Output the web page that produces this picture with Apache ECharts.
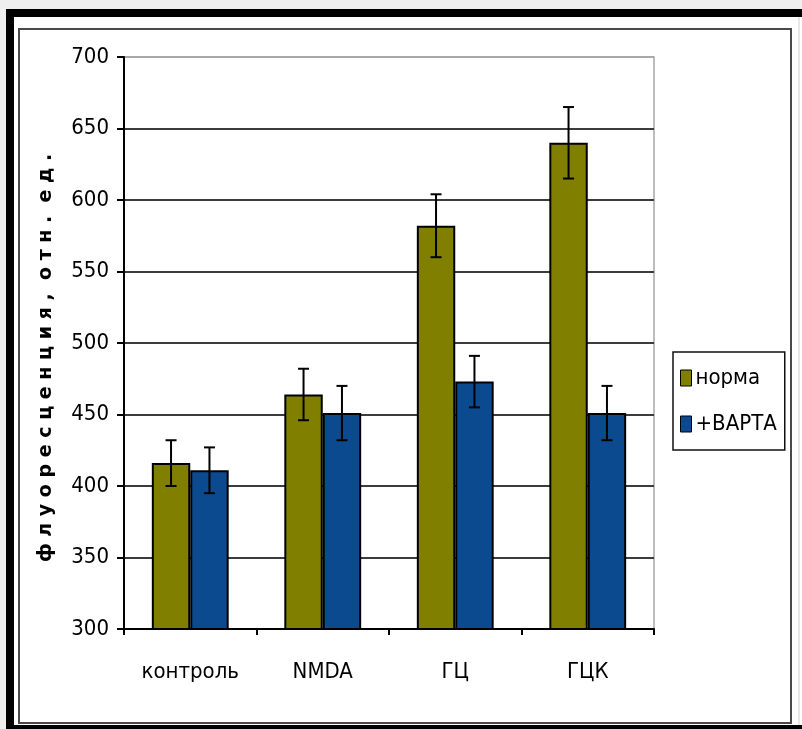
<!DOCTYPE html>
<html><head><meta charset="utf-8">
<script src="https://cdn.jsdelivr.net/npm/echarts@6/dist/echarts.min.js"></script>
<style>
html,body{margin:0;padding:0;background:#ffffff;width:802px;height:729px;overflow:hidden;}
#chart{position:absolute;left:0;top:0;width:802px;height:729px;}
</style></head>
<body>
<div id="chart"></div>
<script>
const categories = ['контроль', 'NMDA', 'ГЦ', 'ГЦК'];
const seriesNames = ['норма', '+ВАРТА'];
const normaValues = [416, 464, 582, 640];
const normaErr = [16, 18, 22, 25];
const bartaValues = [411, 451, 473, 451];
const bartaErr = [16, 19, 18, 19];
const yTicks = [300, 350, 400, 450, 500, 550, 600, 650, 700];
const yTitle = 'ф л у о р е с ц е н ц и я ,  о т н .  е д .';

const narrow = "'Liberation Sans Narrow', 'DejaVu Sans Condensed', 'Arial Narrow', sans-serif";
const olive = '#817f00';
const blue = '#0b4a8f';
const catGapFrac = 0.42;

function errSeries(vals, errs, side) {
  return {
    type: 'custom',
    silent: true,
    z: 5,
    data: vals.map((v, i) => [i, v - errs[i], v + errs[i]]),
    renderItem: function (params, api) {
      const cw = api.size([1, 0])[0];
      const bw = cw * (1 - catGapFrac) / 2;
      const c = api.coord([api.value(0), 0]);
      const x = c[0] + side * bw / 2;
      const lo = api.coord([api.value(0), api.value(1)])[1];
      const hi = api.coord([api.value(0), api.value(2)])[1];
      const cap = 5.5;
      const st = { stroke: '#000', lineWidth: 2 };
      return { type: 'group', children: [
        { type: 'line', shape: { x1: x, y1: lo, x2: x, y2: hi }, style: st },
        { type: 'line', shape: { x1: x - cap, y1: lo, x2: x + cap, y2: lo }, style: st },
        { type: 'line', shape: { x1: x - cap, y1: hi, x2: x + cap, y2: hi }, style: st }
      ]};
    }
  };
}

const chart = echarts.init(document.getElementById('chart'), null, { renderer: 'canvas' });
chart.setOption({
  animation: false,
  backgroundColor: '#ffffff',
  grid: { left: 124, right: 148, top: 57, bottom: 100, show: true, borderColor: '#a8a8a8', borderWidth: 1.5, backgroundColor: 'transparent' },
  legend: {
    orient: 'vertical', left: 673, top: 352,
    backgroundColor: '#fff', borderColor: '#111', borderWidth: 1.5,
    padding: [15, 8, 15, 7], itemGap: 24,
    itemWidth: 11, itemHeight: 16, icon: 'rect',
    itemStyle: { borderColor: '#000', borderWidth: 1 },
    textStyle: { fontFamily: narrow, fontSize: 22, color: '#000', padding: [0, 0, 0, -1] },
    data: seriesNames
  },
  xAxis: {
    type: 'category', data: categories,
    axisLine: { lineStyle: { color: '#000', width: 2 } },
    axisTick: { show: true, length: 6, lineStyle: { color: '#000', width: 2 } },
    axisLabel: { interval: 0, fontFamily: narrow, fontSize: 22, color: '#000', margin: 32 },
    splitLine: { show: false }
  },
  yAxis: {
    type: 'value', min: 300, max: 700, interval: 50,
    axisLine: { show: true, lineStyle: { color: '#000', width: 2 } },
    axisTick: { show: true, length: 7, lineStyle: { color: '#000', width: 2 } },
    axisLabel: { fontFamily: narrow, fontSize: 22, color: '#000', margin: 15,
      formatter: v => (yTicks.indexOf(v) >= 0 ? String(v) : '') },
    splitLine: { show: true, lineStyle: { color: ['#3c3c3c','#3c3c3c','#3c3c3c','#3c3c3c','#3c3c3c','#3c3c3c','#3c3c3c','#3c3c3c','#a8a8a8'], width: 2 } }
  },
  graphic: [
    { type: 'rect', z: -100, silent: true, shape: { x: 0, y: 0, width: 802, height: 9 }, style: { fill: '#efefef' } },
    { type: 'rect', z: -100, silent: true, shape: { x: 0, y: 0, width: 6, height: 729 }, style: { fill: '#efefef' } },
    { type: 'rect', z: -100, silent: true, shape: { x: 6, y: 9, width: 796, height: 8 }, style: { fill: '#000' } },
    { type: 'rect', z: -100, silent: true, shape: { x: 6, y: 9, width: 8, height: 720 }, style: { fill: '#000' } },
    { type: 'rect', z: -100, silent: true, shape: { x: 6, y: 725, width: 796, height: 4 }, style: { fill: '#000' } },
    { type: 'rect', z: 100, silent: true, shape: { x: 793, y: 17, width: 9, height: 708 }, style: { fill: '#fff' } },
    { type: 'line', z: 100, silent: true, shape: { x1: 799, y1: 17, x2: 799, y2: 725 }, style: { stroke: '#d0d0d0', lineWidth: 1 } },
    { type: 'rect', z: -98, silent: true, shape: { x: 19, y: 29, width: 772, height: 694 }, style: { fill: 'none', stroke: '#4a4a4a', lineWidth: 2 } },
    { type: 'text', x: 46, y: 358, rotation: Math.PI / 2,
      style: { text: yTitle, fontFamily: "'DejaVu Sans', sans-serif", fontWeight: 'bold', fontSize: 19, fill: '#000', align: 'center', verticalAlign: 'middle' } }
  ],
  series: [
    { name: seriesNames[0], type: 'bar', data: normaValues, barGap: '0%', barCategoryGap: (catGapFrac * 100) + '%',
      itemStyle: { color: olive, borderColor: '#000', borderWidth: 2 } },
    { name: seriesNames[1], type: 'bar', data: bartaValues,
      itemStyle: { color: blue, borderColor: '#000', borderWidth: 2 } },
    errSeries(normaValues, normaErr, -1),
    errSeries(bartaValues, bartaErr, 1)
  ]
});
</script>
</body></html>
